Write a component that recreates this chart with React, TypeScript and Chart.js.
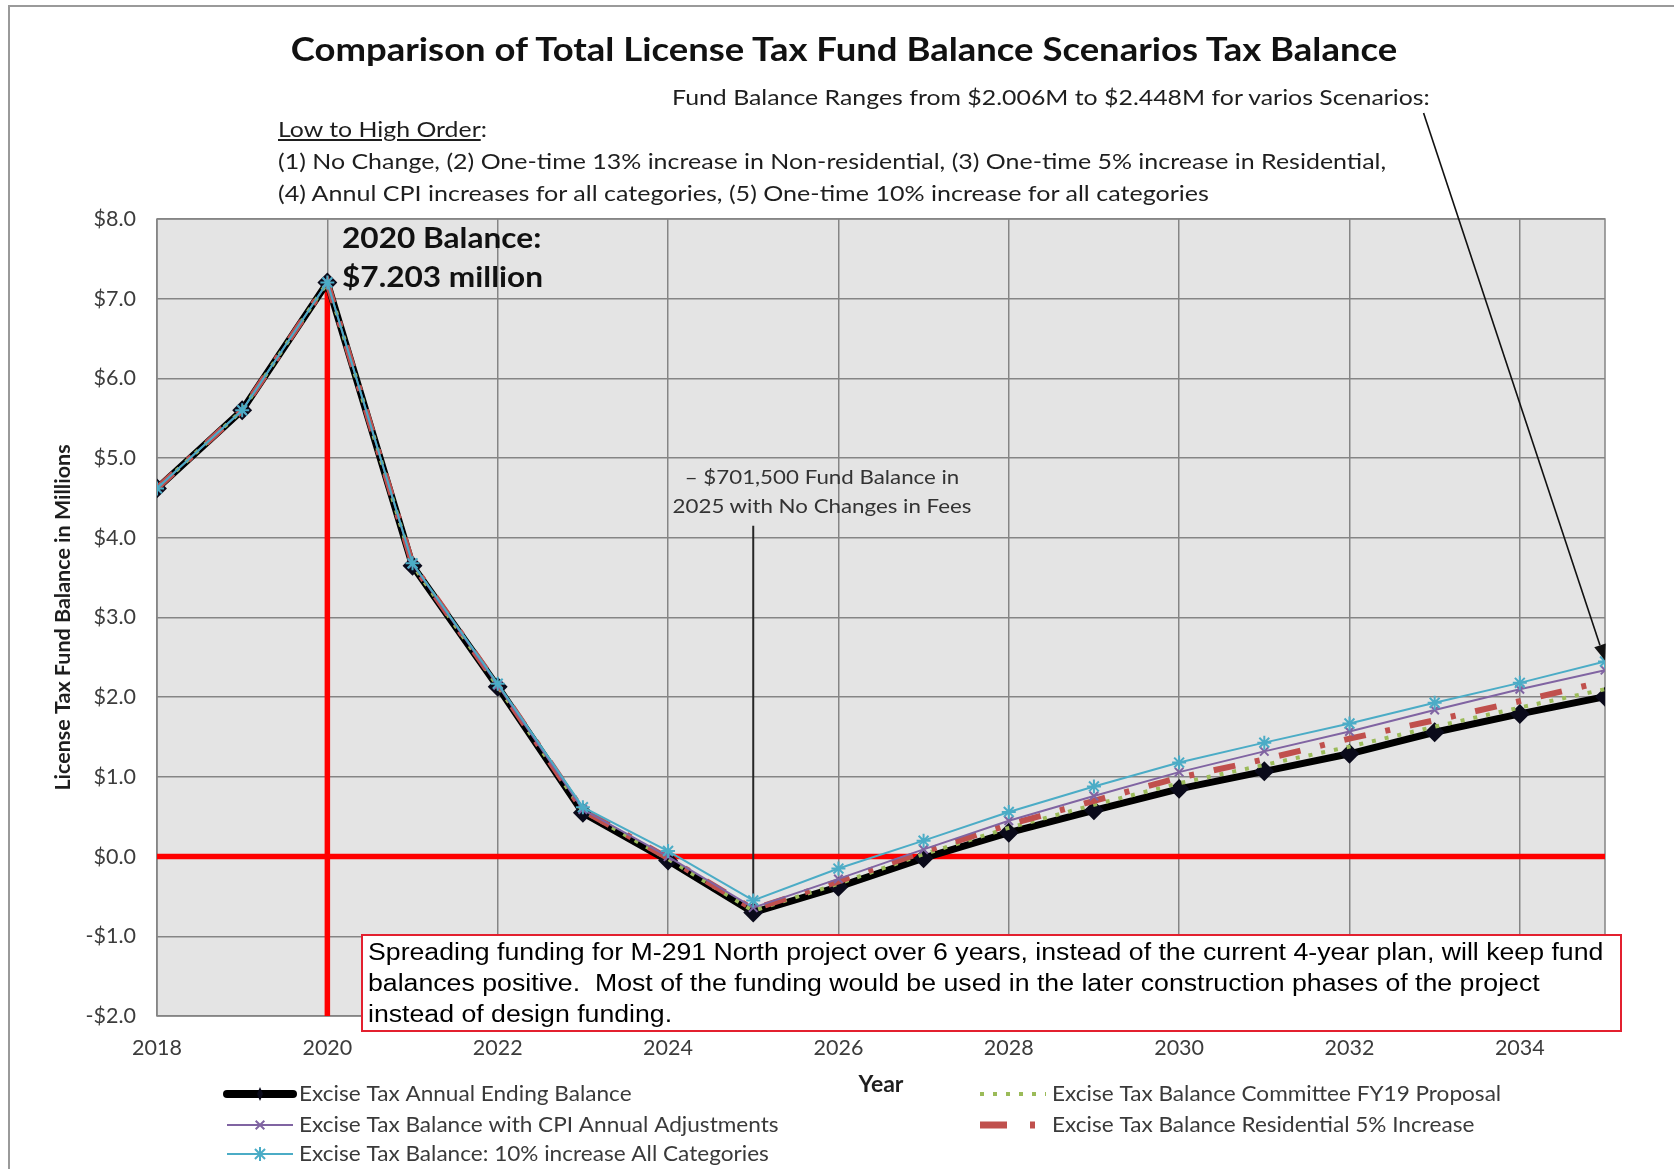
import React, { useEffect, useRef } from "react";
import { Chart, registerables } from "chart.js";

Chart.register(...registerables);

// ---------------- data ----------------
const years = [2018, 2019, 2020, 2021, 2022, 2023, 2024, 2025, 2026, 2027, 2028, 2029, 2030, 2031, 2032, 2033, 2034, 2035];
const annualEndingBalance = [4.62, 5.6, 7.203, 3.65, 2.13, 0.55, -0.05, -0.7015, -0.38, -0.02, 0.3, 0.58, 0.85, 1.07, 1.29, 1.56, 1.79, 2.006];
const committeeFY19 = [4.62, 5.6, 7.203, 3.66, 2.14, 0.57, -0.03, -0.68, -0.34, 0.03, 0.36, 0.65, 0.92, 1.15, 1.38, 1.63, 1.87, 2.1];
const residential5 = [4.62, 5.6, 7.203, 3.67, 2.15, 0.58, -0.02, -0.66, -0.31, 0.06, 0.4, 0.7, 0.99, 1.22, 1.48, 1.71, 1.95, 2.2];
const cpiAdjustments = [4.62, 5.6, 7.203, 3.67, 2.15, 0.59, 0.0, -0.64, -0.28, 0.09, 0.45, 0.76, 1.06, 1.32, 1.57, 1.84, 2.1, 2.34];
const allCategories10 = [4.62, 5.6, 7.203, 3.68, 2.17, 0.62, 0.07, -0.55, -0.15, 0.2, 0.56, 0.88, 1.18, 1.43, 1.67, 1.93, 2.18, 2.448];

const seriesLabels = [
  "Excise Tax Annual Ending Balance",
  "Excise Tax Balance Committee FY19 Proposal",
  "Excise Tax Balance with CPI Annual Adjustments",
  "Excise Tax Balance Residential 5% Increase",
  "Excise Tax Balance: 10% increase All Categories",
];

const xTickValues = [2018, 2020, 2022, 2024, 2026, 2028, 2030, 2032, 2034];
const yTickValues = [-2, -1, 0, 1, 2, 3, 4, 5, 6, 7, 8];

// annotation anchors (data space)
const peakYear = 2020;
const peakValue = 7.203;
const calloutYear = 2025;
const calloutTopValue = 4.15;
const calloutValue = -0.7015;
const arrowFrom = { x: 2032.87, y: 9.33 };
const arrowTo = { x: 2035, y: 2.46 };

// ---------------- styles ----------------
const FONT = "Lato, 'Open Sans', sans-serif";
const GRID = "#858585";
const TICK = "#3c3c3c";
const PLOT_BG = "#e4e4e4";

const legendSlots = [
  { ds: 0, x: 227, y: 1094 },
  { ds: 2, x: 227, y: 1125 },
  { ds: 4, x: 227, y: 1154 },
  { ds: 1, x: 980, y: 1094 },
  { ds: 3, x: 980, y: 1125 },
];

function drawMarker(ctx: CanvasRenderingContext2D, style: string, cx: number, cy: number, r: number, color: string) {
  ctx.save();
  ctx.setLineDash([]);
  ctx.strokeStyle = color;
  ctx.fillStyle = color;
  ctx.lineWidth = 2;
  ctx.beginPath();
  if (style === "rectRot") {
    ctx.moveTo(cx, cy - r - 2);
    ctx.lineTo(cx + r * 0.6, cy);
    ctx.lineTo(cx, cy + r + 2);
    ctx.lineTo(cx - r * 0.6, cy);
    ctx.closePath();
    ctx.fill();
  } else if (style === "crossRot") {
    const d = r * 0.72;
    ctx.moveTo(cx - d, cy - d);
    ctx.lineTo(cx + d, cy + d);
    ctx.moveTo(cx + d, cy - d);
    ctx.lineTo(cx - d, cy + d);
    ctx.stroke();
  } else if (style === "star") {
    const d = r * 0.72;
    ctx.moveTo(cx - d, cy - d);
    ctx.lineTo(cx + d, cy + d);
    ctx.moveTo(cx + d, cy - d);
    ctx.lineTo(cx - d, cy + d);
    ctx.moveTo(cx, cy - r);
    ctx.lineTo(cx, cy + r);
    ctx.moveTo(cx - r, cy);
    ctx.lineTo(cx + r, cy);
    ctx.stroke();
  }
  ctx.restore();
}

const annotationPlugin = {
  id: "fundAnnotations",
  beforeDraw(chart: any) {
    const { ctx, chartArea: a } = chart;
    ctx.save();
    ctx.fillStyle = PLOT_BG;
    ctx.fillRect(a.left, a.top, a.right - a.left, a.bottom - a.top);
    ctx.restore();
  },
  beforeDatasetsDraw(chart: any) {
    const { ctx, chartArea: a, scales } = chart;
    const x = scales.x;
    const y = scales.y;
    ctx.save();
    ctx.strokeStyle = GRID;
    ctx.lineWidth = 1.5;
    ctx.strokeRect(a.left, a.top, a.right - a.left, a.bottom - a.top);

    // red reference lines
    ctx.strokeStyle = "#ff0000";
    ctx.lineWidth = 5.5;
    ctx.beginPath();
    ctx.moveTo(a.left, y.getPixelForValue(0));
    ctx.lineTo(a.right, y.getPixelForValue(0));
    ctx.stroke();
    ctx.beginPath();
    ctx.moveTo(x.getPixelForValue(peakYear), y.getPixelForValue(peakValue));
    ctx.lineTo(x.getPixelForValue(peakYear), a.bottom);
    ctx.stroke();

    // callout line for 2025
    ctx.strokeStyle = "#262626";
    ctx.lineWidth = 2;
    ctx.beginPath();
    ctx.moveTo(x.getPixelForValue(calloutYear), y.getPixelForValue(calloutTopValue));
    ctx.lineTo(x.getPixelForValue(calloutYear), y.getPixelForValue(calloutValue));
    ctx.stroke();
    ctx.restore();
  },
  afterDatasetsDraw(chart: any) {
    const { ctx, scales } = chart;
    const x = scales.x;
    const y = scales.y;
    const x0 = x.getPixelForValue(arrowFrom.x);
    const y0 = y.getPixelForValue(arrowFrom.y);
    const x1 = x.getPixelForValue(arrowTo.x);
    const y1 = y.getPixelForValue(arrowTo.y);
    const ang = Math.atan2(y1 - y0, x1 - x0);
    const L = 16;
    const W = 6;
    ctx.save();
    ctx.strokeStyle = "#111";
    ctx.fillStyle = "#111";
    ctx.lineWidth = 1.6;
    ctx.beginPath();
    ctx.moveTo(x0, y0);
    ctx.lineTo(x1 - Math.cos(ang) * L, y1 - Math.sin(ang) * L);
    ctx.stroke();
    ctx.beginPath();
    ctx.moveTo(x1, y1);
    ctx.lineTo(x1 - Math.cos(ang) * L - Math.sin(ang) * W, y1 - Math.sin(ang) * L + Math.cos(ang) * W);
    ctx.lineTo(x1 - Math.cos(ang) * L + Math.sin(ang) * W, y1 - Math.sin(ang) * L - Math.cos(ang) * W);
    ctx.closePath();
    ctx.fill();
    ctx.restore();
  },
  afterDraw(chart: any) {
    const { ctx } = chart;
    const datasets = chart.data.datasets;
    legendSlots.forEach((slot) => {
      const ds: any = datasets[slot.ds];
      const w = 66;
      ctx.save();
      ctx.strokeStyle = ds.borderColor;
      ctx.lineWidth = ds.legendWidth || ds.borderWidth;
      ctx.lineCap = ds.legendCap || "butt";
      ctx.setLineDash(ds.legendDash || ds.borderDash || []);
      ctx.beginPath();
      ctx.moveTo(slot.x, slot.y);
      ctx.lineTo(slot.x + w, slot.y);
      ctx.stroke();
      ctx.restore();
      if (ds.pointRadius > 0) {
        drawMarker(ctx, ds.pointStyle, slot.x + w / 2, slot.y, ds.pointRadius, ds.pointBorderColor || ds.borderColor);
      }
      ctx.save();
      ctx.fillStyle = "#3a3a3a";
      ctx.font = `21px ${FONT}`;
      ctx.textBaseline = "middle";
      ctx.translate(slot.x + w + 6, slot.y);
      ctx.scale(1.075, 1);
      ctx.fillText(ds.label, 0, 0);
      ctx.restore();
    });
  },
};

function T(props: {
  x: number;
  y: number;
  size: number;
  sx?: number;
  bold?: boolean;
  center?: boolean;
  color?: string;
  children: React.ReactNode;
}) {
  const lh = props.size * 1.2;
  const sx = props.sx || 1;
  return (
    <div
      style={{
        position: "absolute",
        left: props.x,
        top: props.y - lh / 2,
        fontFamily: FONT,
        fontSize: props.size,
        lineHeight: `${lh}px`,
        fontWeight: props.bold ? 700 : 400,
        color: props.color || "#1e1e1e",
        whiteSpace: "nowrap",
        transformOrigin: props.center ? "50% 50%" : "0 50%",
        transform: (props.center ? "translateX(-50%) " : "") + `scaleX(${sx})`,
      }}
    >
      {props.children}
    </div>
  );
}

export default function App() {
  const canvasRef = useRef<HTMLCanvasElement>(null);

  useEffect(() => {
    const pts = (arr: number[]) => years.map((yr, i) => ({ x: yr, y: arr[i] }));
    const chart = new Chart(canvasRef.current as HTMLCanvasElement, {
      type: "line",
      data: {
        datasets: [
          {
            label: seriesLabels[0],
            data: pts(annualEndingBalance),
            borderColor: "#000000",
            backgroundColor: "#000000",
            borderWidth: 7,
            legendWidth: 8,
            legendCap: "round",
            pointStyle: "rectRot",
            pointRadius: 5,
            pointBackgroundColor: "#0a0a1a",
            pointBorderColor: "#0a0a1a",
            order: 5,
          } as any,
          {
            label: seriesLabels[1],
            data: pts(committeeFY19),
            borderColor: "#9bbb59",
            borderWidth: 4,
            borderDash: [4, 9],
            pointRadius: 0,
            order: 4,
          } as any,
          {
            label: seriesLabels[2],
            data: pts(cpiAdjustments),
            borderColor: "#8064a2",
            borderWidth: 2,
            pointStyle: "crossRot",
            pointRadius: 6,
            pointBorderWidth: 2,
            pointBorderColor: "#8064a2",
            pointBackgroundColor: "#8064a2",
            order: 2,
          } as any,
          {
            label: seriesLabels[3],
            data: pts(residential5),
            borderColor: "#c0504d",
            borderWidth: 6,
            borderDash: [22, 20, 5, 20],
            legendDash: [27, 23, 5, 200],
            legendWidth: 7,
            pointRadius: 0,
            order: 3,
          } as any,
          {
            label: seriesLabels[4],
            data: pts(allCategories10),
            borderColor: "#4bacc6",
            borderWidth: 2,
            pointStyle: "star",
            pointRadius: 7,
            pointBorderWidth: 2,
            pointBorderColor: "#4bacc6",
            pointBackgroundColor: "#4bacc6",
            order: 1,
          } as any,
        ],
      },
      options: {
        animation: false,
        responsive: false,
        devicePixelRatio: 1,
        layout: { padding: { top: 219, right: 69, left: 0, bottom: 0 } },
        plugins: {
          legend: { display: false },
          tooltip: { enabled: false },
          title: { display: false },
        },
        scales: {
          x: {
            type: "linear",
            min: 2018,
            max: 2035,
            afterBuildTicks: (s: any) => {
              s.ticks = xTickValues.map((v) => ({ value: v }));
            },
            afterFit: (s: any) => {
              s.height = 153;
            },
            grid: { color: GRID, lineWidth: 1.5, drawTicks: false },
            border: { display: false },
            ticks: {
              padding: 19,
              color: TICK,
              font: { family: FONT, size: 21.5 },
              maxRotation: 0,
              autoSkip: false,
              callback: (v: any) => String(v),
            },
            title: {
              display: true,
              text: "Year",
              color: "#1e1e1e",
              font: { family: FONT, size: 23, weight: "bold" },
              padding: { top: 0, bottom: 71 },
            },
          },
          y: {
            min: -2,
            max: 8,
            afterBuildTicks: (s: any) => {
              s.ticks = yTickValues.map((v) => ({ value: v }));
            },
            afterFit: (s: any) => {
              s.width = 157;
            },
            grid: { color: GRID, lineWidth: 1.5, drawTicks: false },
            border: { display: false },
            ticks: {
              padding: 21,
              color: TICK,
              font: { family: FONT, size: 21.5 },
              callback: (v: any) => (v < 0 ? "-" : "") + "$" + Math.abs(v).toFixed(1),
            },
            title: {
              display: true,
              text: "License Tax Fund Balance in Millions",
              color: "#1e1e1e",
              font: { family: FONT, size: 21.5, weight: "bold" },
              padding: { top: 50, bottom: 0 },
            },
          },
        },
      } as any,
      plugins: [annotationPlugin as any],
    });
    return () => chart.destroy();
  }, []);

  return (
    <div
      style={{
        position: "fixed",
        left: 0,
        top: 0,
        width: 1674,
        height: 1169,
        background: "#ffffff",
        overflow: "hidden",
      }}
    >
      <div
        style={{
          position: "absolute",
          left: 8,
          top: 5,
          width: 1700,
          height: 1200,
          borderLeft: "2px solid #9a9a9a",
          borderTop: "2px solid #9a9a9a",
        }}
      />
      <canvas ref={canvasRef} width={1674} height={1169} style={{ position: "absolute", left: 0, top: 0 }} />

      <T x={844} y={49} size={32} sx={1.14} bold center color="#111">
        Comparison of Total License Tax Fund Balance Scenarios Tax Balance
      </T>
      <T x={672} y={97} size={22} sx={1.13}>
        Fund Balance Ranges from $2.006M to $2.448M for varios Scenarios:
      </T>
      <T x={278} y={129} size={22} sx={1.13}>
        <span style={{ textDecoration: "underline" }}>Low to High Order</span>:
      </T>
      <T x={278} y={161} size={22} sx={1.135}>
        (1) No Change, (2) One-time 13% increase in Non-residential, (3) One-time 5% increase in Residential,
      </T>
      <T x={278} y={193} size={22} sx={1.14}>
        (4) Annul CPI increases for all categories, (5) One-time 10% increase for all categories
      </T>
      <T x={342} y={237} size={29} sx={1.09} bold color="#111">
        2020 Balance:
      </T>
      <T x={342} y={276} size={29} sx={1.09} bold color="#111">
        $7.203 million
      </T>
      <T x={822} y={476} size={20} sx={1.115} center color="#333">
        – $701,500 Fund Balance in
      </T>
      <T x={822} y={505} size={20} sx={1.115} center color="#333">
        2025 with No Changes in Fees
      </T>

      <div
        style={{
          position: "absolute",
          left: 361,
          top: 934,
          width: 1261,
          height: 98,
          boxSizing: "border-box",
          border: "2px solid #e3202f",
          background: "#ffffff",
          padding: "1px 5px",
          fontFamily: "'Liberation Sans', Arial, sans-serif",
          fontSize: 23,
          lineHeight: "31px",
          color: "#000",
          whiteSpace: "nowrap",
        }}
      >
        <div style={{ transformOrigin: "0 0", transform: "scaleX(1.16)" }}>
          Spreading funding for M-291 North project over 6 years, instead of the current 4-year plan, will keep fund
          <br />
          balances positive.&nbsp; Most of the funding would be used in the later construction phases of the project
          <br />
          instead of design funding.
        </div>
      </div>
    </div>
  );
}
